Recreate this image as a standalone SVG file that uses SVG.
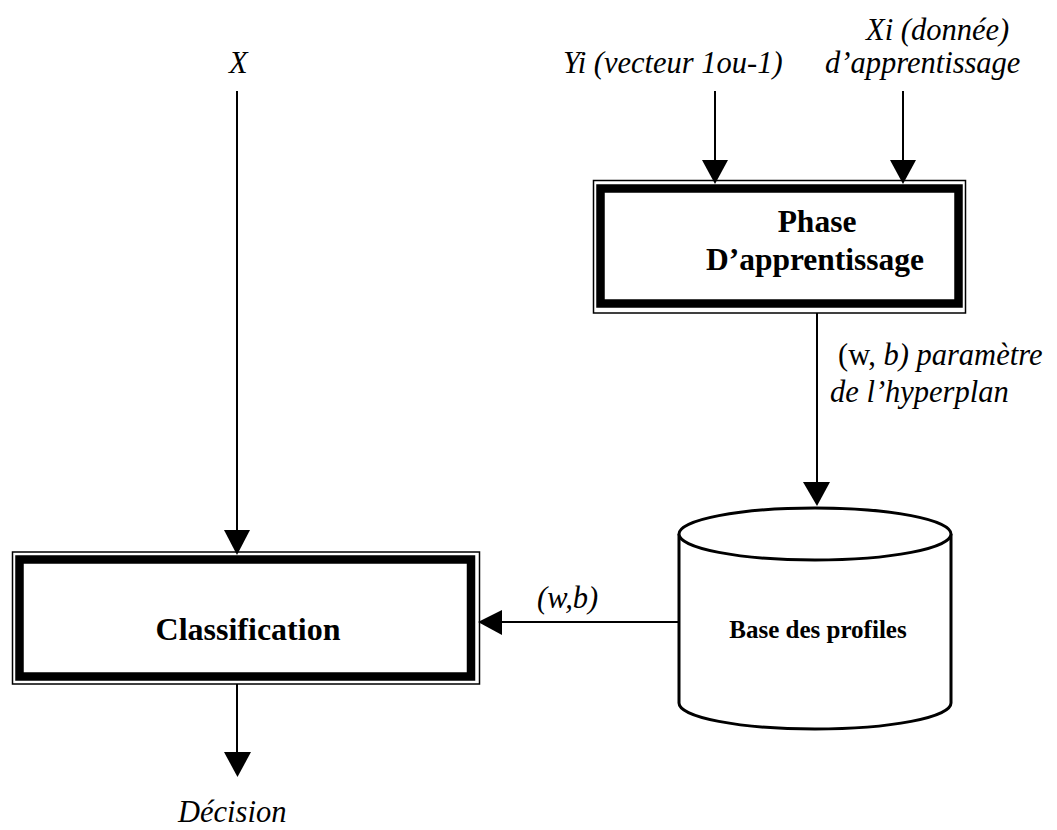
<svg xmlns="http://www.w3.org/2000/svg" width="1057" height="830" viewBox="0 0 1057 830">
  <style>
    text { font-family: 'Liberation Serif', 'DejaVu Serif', serif; fill: #000; }
    .lbl { font-style: italic; font-size: 30.5px; }
    .up { font-style: normal; }
    .title { font-weight: bold; text-anchor: middle; }
    .thin { fill: none; stroke: #000; stroke-width: 1.5; }
    .thick { fill: #fff; stroke: #000; stroke-width: 8.5; }
    .wire { fill: none; stroke: #000; stroke-width: 2; }
    .head { fill: #000; }
  </style>
  <rect width="1057" height="830" fill="#fff"/>

  <!-- connectors -->
  <g id="connectors">
    <!-- X -> Classification -->
    <line class="wire" x1="237" y1="91" x2="237" y2="532"/>
    <polygon class="head" points="224,530 250,530 237,555"/>
    <!-- Yi -> Phase -->
    <line class="wire" x1="715" y1="91" x2="715" y2="162"/>
    <polygon class="head" points="702,160 728,160 715,184"/>
    <!-- Xi -> Phase -->
    <line class="wire" x1="903" y1="91" x2="903" y2="162"/>
    <polygon class="head" points="890,160 916,160 903,184"/>
    <!-- Phase -> Base -->
    <line class="wire" x1="817" y1="313" x2="817" y2="484"/>
    <polygon class="head" points="803,482 830,482 817,506"/>
    <!-- Base -> Classification -->
    <line class="wire" x1="679" y1="622" x2="500" y2="622"/>
    <polygon class="head" points="502,610 502,635 478,622"/>
    <!-- Classification -> Décision -->
    <line class="wire" x1="237" y1="684" x2="237" y2="754"/>
    <polygon class="head" points="224,752 251,752 237.5,777"/>
  </g>

  <!-- connector labels -->
  <g id="labels">
    <text class="lbl" x="229" y="73">X</text>
    <text class="lbl" x="866" y="40" font-size="32">Xi (donnée)</text>
    <text class="lbl" x="563" y="73">Yi (vecteur 1ou-1)</text>
    <text class="lbl" x="825" y="73" font-size="32">d’apprentissage</text>
    <text class="lbl" x="838" y="365" font-size="32.5"><tspan class="up">(w, </tspan>b) paramètre</text>
    <text class="lbl" x="830" y="402" font-size="31">de l’hyperplan</text>
    <text class="lbl" x="537" y="608">(w,b)</text>
    <text class="lbl" x="178" y="822">Décision</text>
  </g>

  <!-- learning phase -->
  <g id="phase">
    <rect class="thin" x="593.5" y="180.5" width="372" height="132.5"/>
    <rect class="thick" x="600.5" y="188.5" width="358" height="115"/>
    <text class="title" font-size="31.5" x="817" y="232">Phase</text>
    <text class="title" font-size="31.5" x="815" y="270">D’apprentissage</text>
  </g>

  <!-- profile store -->
  <g id="base">
    <path d="M679,534 V703 A136,26 0 0 0 951,703 V534" fill="#fff" stroke="#000" stroke-width="3"/>
    <ellipse cx="815" cy="534" rx="136" ry="26" fill="#fff" stroke="#000" stroke-width="3"/>
    <text class="title" font-size="25" x="818" y="638">Base des profiles</text>
  </g>

  <!-- classification -->
  <g id="classification">
    <rect class="thin" x="12.5" y="552" width="467" height="132"/>
    <rect class="thick" x="19.5" y="559.5" width="451.5" height="117"/>
    <text class="title" font-size="32" x="248" y="640">Classification</text>
  </g>
</svg>
